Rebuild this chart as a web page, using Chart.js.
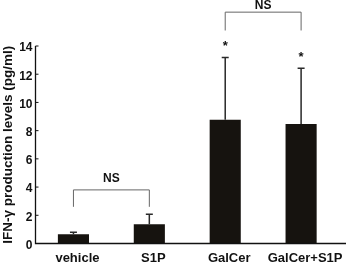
<!DOCTYPE html>
<html>
<head>
<meta charset="utf-8">
<script src="https://cdn.jsdelivr.net/npm/chart.js@4.4.1/dist/chart.umd.min.js"></script>
<style>
    html, body { margin: 0; padding: 0; background: #fff; }
    #wrap { width: 346px; height: 267px; position: relative; }
</style>
</head>
<body>
<div id="wrap"><canvas id="chart"></canvas></div>
<script>
// Chart data
const categories = ['vehicle', 'S1P', 'GalCer', 'GalCer+S1P'];
const means = [0.65, 1.37, 8.77, 8.47];
const errors = [0.15, 0.70, 4.42, 3.95];
const stars = ['', '', '*', '*'];
const yTicks = [0, 2, 4, 6, 8, 10, 12, 14];

// Significance brackets (category indexes, heights in data units)
const bracketFrom = [0, 2];
const bracketTo = [1, 3];
const bracketTop = [3.8, 16.4];
const bracketFoot = [2.6, 15.1];
const bracketLabel = ['NS', 'NS'];

const FONT = "'Liberation Sans', Arial, Helvetica, sans-serif";

// Draws axes lines, inward ticks, error bars, stars and brackets
const annotations = {
    id: 'annotations',
    afterDatasetsDraw(chart) {
        const ctx = chart.ctx;
        const x = chart.scales.x;
        const y = chart.scales.y;
        const area = chart.chartArea;

        ctx.save();

        // axes
        ctx.strokeStyle = '#111';
        ctx.lineWidth = 1.3;
        ctx.beginPath();
        ctx.moveTo(area.left, y.getPixelForValue(14));
        ctx.lineTo(area.left, area.bottom);
        ctx.lineTo(chart.width, area.bottom);
        ctx.stroke();

        ctx.lineWidth = 1;
        yTicks.forEach(v => {
            const py = y.getPixelForValue(v);
            ctx.beginPath();
            ctx.moveTo(area.left, py);
            ctx.lineTo(area.left + 3, py);
            ctx.stroke();
        });

        // error bars (upper only)
        ctx.strokeStyle = '#2a2a2a';
        ctx.lineWidth = 1.5;
        means.forEach((m, i) => {
            const px = x.getPixelForValue(i);
            const top = y.getPixelForValue(m + errors[i]);
            ctx.beginPath();
            ctx.moveTo(px, y.getPixelForValue(m));
            ctx.lineTo(px, top);
            ctx.moveTo(px - 3.5, top);
            ctx.lineTo(px + 3.5, top);
            ctx.stroke();

            if (stars[i]) {
                ctx.fillStyle = '#111';
                ctx.font = `bold 13px ${FONT}`;
                ctx.textAlign = 'center';
                ctx.textBaseline = 'alphabetic';
                ctx.fillText(stars[i], px, top - 7);
            }
        });

        // brackets
        ctx.strokeStyle = '#666';
        ctx.lineWidth = 1;
        bracketFrom.forEach((f, i) => {
            const x1 = x.getPixelForValue(f);
            const x2 = x.getPixelForValue(bracketTo[i]);
            const yt = y.getPixelForValue(bracketTop[i]);
            const yf = y.getPixelForValue(bracketFoot[i]);
            ctx.beginPath();
            ctx.moveTo(x1, yf);
            ctx.lineTo(x1, yt);
            ctx.lineTo(x2, yt);
            ctx.lineTo(x2, yf);
            ctx.stroke();

            // keep the label inside the canvas
            ctx.fillStyle = '#111';
            ctx.font = `bold 12px ${FONT}`;
            ctx.textAlign = 'center';
            ctx.textBaseline = 'alphabetic';
            ctx.fillText(bracketLabel[i], (x1 + x2) / 2, Math.max(yt - 8, 8.5));
        });

        ctx.restore();
    }
};

new Chart(document.getElementById('chart'), {
    type: 'bar',
    data: {
        labels: categories,
        datasets: [{
            data: means,
            backgroundColor: '#16130f',
            borderWidth: 0,
            barPercentage: 0.41,
            categoryPercentage: 1
        }]
    },
    options: {
        responsive: true,
        maintainAspectRatio: false,
        animation: false,
        devicePixelRatio: 1,
        layout: { padding: { top: 46, right: 4, left: 0, bottom: 0 } },
        plugins: {
            legend: { display: false },
            tooltip: { enabled: false }
        },
        scales: {
            x: {
                grid: { display: false, drawTicks: false },
                border: { display: false },
                ticks: {
                    color: '#111',
                    padding: 7,
                    labelOffset: 4,
                    maxRotation: 0,
                    autoSkip: false,
                    font: { family: FONT, size: 13, weight: 'bold' }
                },
                afterFit(scale) { scale.height = 23.5; }
            },
            y: {
                min: 0,
                max: 14,
                afterBuildTicks(scale) { scale.ticks = yTicks.map(v => ({ value: v })); },
                grid: { display: false, drawTicks: false },
                border: { display: false },
                ticks: {
                    color: '#111',
                    padding: 3,
                    labelOffset: 2,
                    font: { family: FONT, size: 12, weight: 'bold' }
                },
                title: {
                    display: true,
                    text: 'IFN-γ production levels (pg/ml)',
                    color: '#111',
                    padding: { top: 0, bottom: 0 },
                    font: { family: FONT, size: 13.5, weight: 'bold' }
                },
                afterFit(scale) { scale.width = 35.5; }
            }
        }
    },
    plugins: [annotations]
});
</script>
</body>
</html>
